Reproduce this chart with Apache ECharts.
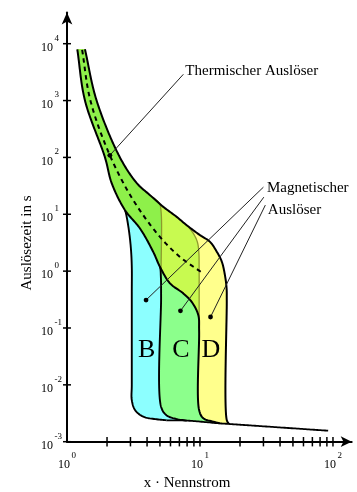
<!DOCTYPE html>
<html><head><meta charset="utf-8">
<script src="https://cdn.jsdelivr.net/npm/echarts@6/dist/echarts.min.js"></script>
<style>html,body{margin:0;padding:0;background:#fff}#c{width:357px;height:492px}</style>
</head><body><div id="c"></div>
<script>
// ---------- data: x = multiple of rated current, t = trip time [s] ----------
const xMin = 1, xMax = 138.3;
const yMin = 0.001, yMax = 35380;
const xTickValues = [2,3,4,5,6,7,8,9,10,20,30,40,50,60,70,80,90,100];
const yTickValues = [0.001,0.01,0.1,1,10,100,1000,10000];

// thermal release band
const thermalUpper = [[1.365,7980],[1.67,1000],[2.5,100],[3.36,35],[4.21,21.7],[5.3,13.5],[6.68,9.0],[7.94,6.43],[10,4.3],[11.9,3.27],[13.4,2.18],[14.6,1.46],[15.4,0.85],[15.85,0.5],[15.9,0.3]];
const thermalLower = [[1.195,7980],[1.365,1000],[1.93,100],[2.17,35],[2.73,11.8],[3.54,5.62],[4.45,2.18],[5.0,1.19],[5.95,0.61],[7.49,0.406],[8.66,0.288],[9.71,0.169]];
const thermalMid   = [[1.3,7800],[1.5,1000],[2.1,109],[3.15,17.7],[5.0,4.0],[7.07,1.78],[10.5,0.92]];

// magnetic release edges (B: 3..5, C: 5..10, D: 10..16)
const bLeftTail  = [[2.81,9.0],[2.94,4.66],[3.03,2.34],[3.07,1.19],[3.07,0.4],[3.07,0.01],[3.07,0.0054],[3.25,0.0036],[3.75,0.00275],[4.72,0.00248],[5.6,0.00238]];
const bRightTail = [[4.95,15.5],[5.1,11],[5.1,1.0]];
const cLeftTail  = [[5.08,0.8],[5.1,0.35],[5.1,0.0041],[5.62,0.0029],[6.68,0.0025],[7.94,0.00235]];
const cRightTail = [[8.91,4.6],[9.55,3.27],[9.8,2.18],[9.85,1.2],[9.85,0.1]];
const dLeftTail  = [[9.85,0.09],[9.85,0.0036],[10.6,0.00258],[12.6,0.00225],[14.1,0.0021]];
const dRightTail = [[15.9,0.0024],[16.5,0.00205]];
const bottomLine = [[5.6,0.00238],[7.94,0.00235],[14.1,0.0021],[16.5,0.00205],[92,0.00156]];
const hiddenTop = 0.01;

// annotations
const letterNames = ['B','C','D'];
const letterPos   = [[3.97,0.041],[7.2,0.041],[12.1,0.041]];
const thermalDot  = [2.1,109];
const thermalFrom = [7.5,2900];
const magDots     = [[3.93,0.31],[7.13,0.2],[12.0,0.156]];
const magFrom     = [[30,30],[30.2,20],[31,14.5]];
const thermalText = 'Thermischer Auslöser';
const magText1 = 'Magnetischer';
const magText2 = 'Auslöser';

// ---------- colours ----------
const colB = '#8cffff', colC = '#8cff8c', colD = '#ffff8c', colCD = '#c8fa50', colBCD = '#8ef04a';
const olive = '#8d9a2c';
const FONT = '"Liberation Serif", "Times New Roman", serif';

// centripetal Catmull-Rom (render smoothing in pixel space)
function cr(p0,p1,p2,p3,u){
  const a=0.5, eps=1e-4;
  const d = (A,B)=>Math.max(eps, Math.pow(Math.hypot(B[0]-A[0],B[1]-A[1]),a));
  const t0=0, t1=t0+d(p0,p1), t2=t1+d(p1,p2), t3=t2+d(p2,p3);
  const t=t1+(t2-t1)*u;
  const L=(A,B,ta,tb)=>[(tb-t)/(tb-ta)*A[0]+(t-ta)/(tb-ta)*B[0],(tb-t)/(tb-ta)*A[1]+(t-ta)/(tb-ta)*B[1]];
  const A1=L(p0,p1,t0,t1), A2=L(p1,p2,t1,t2), A3=L(p2,p3,t2,t3);
  const B1=L(A1,A2,t0,t2), B2=L(A2,A3,t1,t3);
  return L(B1,B2,t1,t2);
}
function crPath(pts, from){
  from = from||0;
  const out=[], n=pts.length;
  for(let i=from;i<n-1;i++){
    const p1=pts[i], p2=pts[i+1];
    const p0 = i>0 ? pts[i-1] : [2*p1[0]-p2[0], 2*p1[1]-p2[1]];
    const p3 = i+2<n ? pts[i+2] : [2*p2[0]-p1[0], 2*p2[1]-p1[1]];
    const len=Math.hypot(p2[0]-p1[0],p2[1]-p1[1]);
    const steps=Math.max(2,Math.ceil(len/1.5));
    for(let s=(i===from?0:1); s<=steps; s++) out.push(cr(p0,p1,p2,p3,s/steps));
  }
  return out;
}

const bLeftPath  = thermalLower.slice(0,5).concat(bLeftTail);
const bRightPath = thermalUpper.slice(0,5).concat(bRightTail);
const cLeftPath  = thermalLower.slice(0,8).concat(cLeftTail);
const cRightPath = thermalUpper.slice(0,8).concat(cRightTail);
const dLeftPath  = thermalLower.concat(dLeftTail);
const dRightPath = thermalUpper.concat(dRightTail);
const last = a => a[a.length-1];

function renderCurves(params, api){
  const px = pts => pts.map(p => api.coord(p));
  const dens = (pts, from) => crPath(px(pts), from);
  const poly = (points, fill) => ({type:'polygon', shape:{points}, style:{fill, stroke:null}});
  const line = (points, stroke, w, dash) => ({type:'polyline', shape:{points}, style:{stroke, lineWidth:w, fill:null, lineDash:dash||null, lineJoin:'round', lineCap:'butt'}});
  const ch = [];
  // fills
  ch.push(poly(dens(bLeftPath).concat(dens(bottomLine.slice(0,2)), px([[bottomLine[1][0],hiddenTop],[last(bRightPath)[0],hiddenTop]]), dens(bRightPath).reverse()), colB));
  ch.push(poly(dens(cLeftPath).concat(dens(bottomLine.slice(1,3)), px([[bottomLine[2][0],hiddenTop],[last(cRightPath)[0],hiddenTop]]), dens(cRightPath).reverse()), colC));
  ch.push(poly(dens(dLeftPath).concat(dens(bottomLine.slice(2,4)), dens(dRightPath).reverse()), colD));
  ch.push(poly(dens(thermalLower.concat([dLeftTail[0]])).concat(dens(cRightPath).reverse()), colCD));
  ch.push(poly(dens(thermalLower.slice(0,8).concat([last(bRightPath)])).concat(dens(bRightPath).reverse()), colBCD));
  // olive hidden edges
  ch.push(line(dens(bRightPath, 4), olive, 1.3));
  ch.push(line(dens(cRightPath, 7), olive, 1.3));
  // black outlines
  ch.push(line(dens(dRightPath), '#000', 2));
  ch.push(line(dens(bottomLine), '#000', 1.8));
  ch.push(line(dens(dLeftPath), '#000', 2));
  ch.push(line(dens(bLeftPath, 4), '#000', 1.9));
  ch.push(line(dens(cLeftPath, 7), '#000', 1.9));
  // dashed middle line
  ch.push(line(dens(thermalMid), '#000', 2, [4.5,4]));
  return {type:'group', children:ch};
}

function renderAnno(params, api){
  const ch = [];
  const seg = (a,b) => { const p=api.coord(a), q=api.coord(b); return {type:'line', shape:{x1:p[0],y1:p[1],x2:q[0],y2:q[1]}, style:{stroke:'#222', lineWidth:1}}; };
  const dot = a => { const p=api.coord(a); return {type:'circle', shape:{cx:p[0],cy:p[1],r:2.4}, style:{fill:'#000'}}; };
  const txt = (a, dx, dy, text, size, align) => { const p=api.coord(a); return {type:'text', x:p[0]+dx, y:p[1]+dy, style:{text, font:size+'px '+FONT, fill:'#000', align:align||'left', verticalAlign:'middle'}}; };
  ch.push(seg(thermalFrom, thermalDot)); ch.push(dot(thermalDot));
  for(let i=0;i<3;i++){ ch.push(seg(magFrom[i], magDots[i])); ch.push(dot(magDots[i])); }
  ch.push(txt(thermalFrom, 2, -3.5, thermalText, 15));
  ch.push(txt(magFrom[0], 3.5, 1, magText1, 15));
  ch.push(txt(magFrom[2], 2.5, 4.5, magText2, 15));
  for(let i=0;i<3;i++) ch.push(txt(letterPos[i], 0, 0, letterNames[i], 26, 'center'));
  // axis ticks (crossing)
  xTickValues.forEach(v => { const p=api.coord([v,yMin]); ch.push({type:'line', shape:{x1:p[0],y1:p[1]-4.7,x2:p[0],y2:p[1]+4.7}, style:{stroke:'#000', lineWidth:1.5}}); });
  yTickValues.forEach(v => { const p=api.coord([xMin,v]); ch.push({type:'line', shape:{x1:p[0]-4,y1:p[1],x2:p[0]+4,y2:p[1]}, style:{stroke:'#000', lineWidth:1.5}}); });
  return {type:'group', children:ch};
}

const powFmt = v => { const e=Math.log10(v), r=Math.round(e); if(Math.abs(e-r)>1e-6) return ''; return '{b|10}{s|'+r+'}'; };
const rich = {
  b:{fontFamily:FONT, fontSize:12, color:'#000', lineHeight:20, verticalAlign:'bottom'},
  s:{fontFamily:FONT, fontSize:9, color:'#000', lineHeight:10, verticalAlign:'top', padding:[0,0,0,1.5]}
};

const chart = echarts.init(document.getElementById('c'), null, {renderer:'canvas'});
chart.setOption({
  animation:false,
  backgroundColor:'#fff',
  grid:{left:67, right:5.3, top:12.5, bottom:50.3, containLabel:false},
  xAxis:{type:'log', logBase:10, min:xMin, max:xMax,
    axisLine:{show:true, onZero:false, symbol:['none','arrow'], symbolSize:[8,11], lineStyle:{color:'#000', width:2}},
    axisTick:{show:false}, splitLine:{show:false}, minorTick:{show:false},
    axisLabel:{formatter:powFmt, rich, margin:9, align:'center'}},
  yAxis:{type:'log', logBase:10, min:yMin, max:yMax,
    axisLine:{show:true, onZero:false, symbol:['none','arrow'], symbolSize:[8,12], lineStyle:{color:'#000', width:2}},
    axisTick:{show:false}, splitLine:{show:false}, minorTick:{show:false},
    axisLabel:{formatter:powFmt, rich, margin:26, align:'left'}},
  graphic:[
    {type:'text', x:187, y:483, style:{text:'x · Nennstrom', font:'15px '+FONT, fill:'#000', align:'center', verticalAlign:'middle'}},
    {type:'text', x:27.5, y:243, rotation:Math.PI/2, style:{text:'Auslösezeit in s', font:'15px '+FONT, fill:'#000', align:'center', verticalAlign:'middle'}}
  ],
  series:[
    {type:'custom', coordinateSystem:'cartesian2d', clip:false, silent:true, data:[[1,1]], renderItem:renderCurves, z:2},
    {type:'custom', coordinateSystem:'cartesian2d', clip:false, silent:true, data:[[1,1]], renderItem:renderAnno, z:3}
  ]
});
</script></body></html>
